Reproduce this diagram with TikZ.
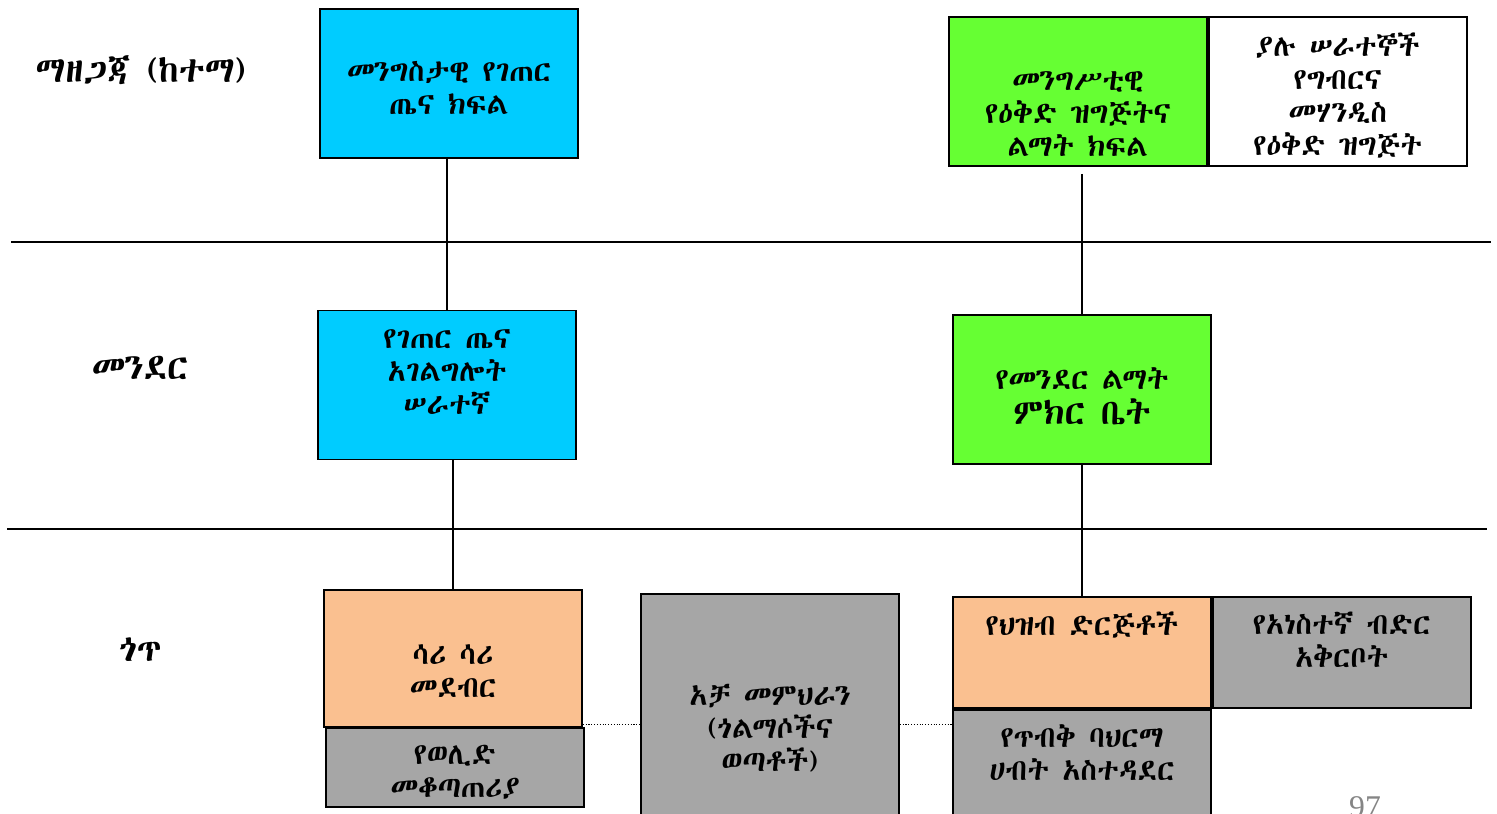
\documentclass[tikz,border=0pt]{standalone}
\usepackage{fontspec}
\usepackage{xcolor}
\usetikzlibrary{positioning}
\IfFontExistsTF{Abyssinica SIL}{\newfontfamily\geez{Abyssinica SIL}}{%
  \IfFontExistsTF{FreeSerif}{\newfontfamily\geez{FreeSerif}}{%
    \IfFontExistsTF{Noto Sans Ethiopic}{\newfontfamily\geez{Noto Sans Ethiopic}}{%
      \newfontfamily\geez{Noto Serif Ethiopic}}}}
\newfontfamily\pagefont{Liberation Serif}
\definecolor{skyb}{RGB}{0, 204, 255}
\definecolor{leaf}{RGB}{102, 255, 51}
\definecolor{peach}{RGB}{250, 192, 144}
\definecolor{stone}{RGB}{166, 166, 166}
\tikzset{
    unit/.style={rectangle, draw=black, line width=1pt, minimum width=5.16cm, minimum height=2.98cm, inner sep=0pt},
    gov/.style={unit, fill=skyb},
    plan/.style={unit, fill=leaf},
    local/.style={unit, fill=peach},
    aid/.style={unit, fill=stone},
    boxtext/.style={align=center, inner sep=0pt, font=\geez\fontsize{17}{18.8}\selectfont},
    says/.style 2 args={label={[boxtext, yshift=#1]center:{#2}}},
    toptext/.style={label={[boxtext, anchor=north, yshift=-8.7pt]north:{#1}}},
    level/.style={font=\geez\fontsize{20.5}{24}\selectfont},
    layer/.style={line width=0.8pt},
    link/.style={line width=0.8pt},
    tie/.style={densely dotted, line width=0.6pt},
}
\begin{document}
\begin{tikzpicture}[x=0.02cm, y=-0.02cm]
  \useasboundingbox (0,0) rectangle (1497,814);

  % levels
  \draw[layer] (11,242) -- (1491,242);
  \draw[layer] (7,529) -- (1487,529);
  \node[level] (city) at (141,70)  {ማዘጋጃ (ከተማ)};
  \node[level] (vill) at (140,368) {መንደር};
  \node[level] (purok) at (140,650) {ጎጥ};

  % health line
  \node[gov, says={-2.8pt}{መንግስታዊ የገጠር\\ጤና ክፍል}] (hdept) at (449,83.5) {};
  \node[gov, says={7.4pt}{የገጠር ጤና\\አገልግሎት\\ሠራተኛ}] (hwork) at (447,385) {};
  \node[local, minimum height=2.74cm, says={-7.4pt}{ሳሪ ሳሪ\\መደብር}] (store) at (453,658.5) {};
  \node[aid, minimum height=1.58cm, says={-2.8pt}{የወሊድ\\መቆጣጠሪያ}] (fplan) at (455,767.5) {};

  % planning line
  \node[plan, says={-13pt}{መንግሥቲዊ\\የዕቅድ ዝግጅትና\\ልማት ክፍል}] (pdept) at (1078,91.5) {};
  \node[unit, right=0pt of pdept, says={-2.3pt}{ያሉ ሠራተኞች\\የግብርና\\መሃንዲስ\\የዕቅድ ዝግጅት}] (staff) {};
  \node[plan, says={-4pt}{የመንደር ልማት\\[1pt]{\fontsize{20}{22}\selectfont ምክር ቤት}}] (vcoun) at (1082,389.5) {};
  \node[local, minimum height=2.22cm, toptext={የህዝብ ድርጅቶች}] (porg) at (1082,652.5) {};
  \node[aid, minimum height=2.22cm, right=0pt of porg, toptext={የአነስተኛ ብድር\\አቅርቦት}] (loan) {};
  \node[aid, minimum height=3.08cm, below=0pt of porg, toptext={የጥብቅ ባህርማ\\ሀብት አስተዳደር}] (marine) {};

  % peers
  \node[aid, minimum height=5.36cm, says={0pt}{አቻ መምህራን\\(ጎልማሶችና\\ወጣቶች)}] (mentor) at (770,728) {};

  % links
  \draw[link] (hwork.north |- hdept.south) -- (hwork.north);
  \draw[link] (store.north |- hwork.south) -- (store.north);
  \draw[link, shorten <=4pt] (vcoun.north |- pdept.south) -- (vcoun.north);
  \draw[link] (vcoun.south) -- (porg.north);
  \coordinate (tieL) at ([yshift=2pt]store.south east);
  \draw[tie] (tieL) -- (tieL -| mentor.west);
  \draw[tie] (tieL -| mentor.east) -- (tieL -| porg.west);

  \node[font=\pagefont\fontsize{18}{20}\selectfont, text=stone!80!black] (pnum) at (1365,807) {97};
\end{tikzpicture}
\end{document}
